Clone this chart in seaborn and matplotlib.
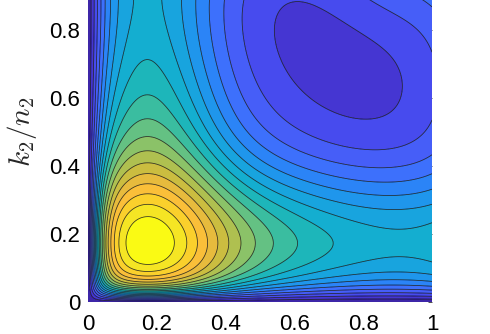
import numpy as np
import matplotlib
matplotlib.use("Agg")
import matplotlib.pyplot as plt
import seaborn as sns
from matplotlib.colors import LinearSegmentedColormap

# ---------------- data ----------------
x_ticks = [0, 0.2, 0.4, 0.6, 0.8, 1]
x_tick_labels = ["0", "0.2", "0.4", "0.6", "0.8", "1"]
y_ticks = [0, 0.2, 0.4, 0.6, 0.8]
y_tick_labels = ["0", "0.2", "0.4", "0.6", "0.8"]
y_label = "$k_2/n_2$"

# field description: central peak, two ridges, background, bump near top-right
peak_center = [0.17, 0.17]
peak_amp = [0.31]
peak_sigma = [0.33]
ridge_amp = [0.33]
ridge_sigma = [0.153]
base_level = [0.040]
edge_rise_amp = [0.086]
edge_rise_power = [8]
edge_rise_on_ridge = [0.5]
top_bump_center = [0.9, 1.0]
top_bump_amp = [0.085]
top_bump_sigma = [0.15]
edge_scale = [0.05]
n_bands = 20
x_range = [0.0, 1.0]
y_range = [0.0, 0.888]

# parula (MATLAB) colormap anchors, evenly spaced 0..1
parula_anchors = [
    (0.24, 0.15, 0.66), (0.27, 0.21, 0.82), (0.28, 0.29, 0.93), (0.28, 0.36, 0.97),
    (0.25, 0.43, 0.99), (0.18, 0.50, 0.98), (0.13, 0.57, 0.94), (0.10, 0.63, 0.89),
    (0.08, 0.67, 0.84), (0.08, 0.70, 0.78), (0.15, 0.73, 0.68), (0.30, 0.75, 0.58),
    (0.45, 0.76, 0.47), (0.60, 0.76, 0.37), (0.72, 0.75, 0.29), (0.82, 0.74, 0.24),
    (0.92, 0.73, 0.24), (0.99, 0.75, 0.22), (0.98, 0.82, 0.17), (0.96, 0.90, 0.14),
    (0.98, 0.98, 0.08),
]
parula = LinearSegmentedColormap.from_list("parula", parula_anchors)

# ---------------- field ----------------
xs = np.linspace(x_range[0], x_range[1], 500)
ys = np.linspace(0.0, 1.0, 500)
X, Y = np.meshgrid(xs, ys)
xc, yc = peak_center
bx, by = top_bump_center
gy = np.exp(-(Y - yc) ** 2 / (2 * ridge_sigma[0] ** 2))   # horizontal ridge profile
gx = np.exp(-(X - xc) ** 2 / (2 * ridge_sigma[0] ** 2))   # vertical ridge profile
k = edge_rise_on_ridge[0]
edge = np.tanh(X / edge_scale[0]) * np.tanh(Y / edge_scale[0])
inner = (base_level[0]
         + edge_rise_amp[0] * (X ** edge_rise_power[0] * (1 - k * gy)
                               + Y ** edge_rise_power[0] * (1 - k * gx))
         + top_bump_amp[0] * np.exp(-((X - bx) ** 2 + (Y - by) ** 2) / (2 * top_bump_sigma[0] ** 2))
         + ridge_amp[0] * (gy + gx)
         + peak_amp[0] * np.exp(-((X - xc) ** 2 + (Y - yc) ** 2) / (2 * peak_sigma[0] ** 2)))
Z = edge * inner
Z = Z / Z.max()

levels = np.linspace(0, 1, n_bands + 1)
band_colors = [parula(i / (n_bands - 1)) for i in range(n_bands)]

# ---------------- plot ----------------
sns.set_style("white")
plt.rcParams["font.family"] = ["Liberation Sans", "DejaVu Sans"]
plt.rcParams["mathtext.fontset"] = "cm"

fig = plt.figure(figsize=(4.9, 3.34), dpi=100)
ax = fig.add_axes([88 / 490, 32 / 334, 344 / 490, 302 / 334])
ax.contourf(X, Y, Z, levels=levels, colors=band_colors, antialiased=True)
ax.contour(X, Y, Z, levels=levels[1:-1], colors="k", linewidths=0.55, alpha=0.8)

ax.set_xlim(*x_range)
ax.set_ylim(*y_range)
ax.set_xticks(x_ticks)
ax.set_xticklabels(x_tick_labels)
ax.set_yticks(y_ticks)
ax.set_yticklabels(y_tick_labels)
ax.tick_params(axis="both", direction="in", length=3, width=0.6, color="#333333",
               labelsize=16, labelcolor="black")
ax.tick_params(axis="x", pad=9)
ax.tick_params(axis="y", pad=5.5, right=True)
for sp in ax.spines.values():
    sp.set_visible(False)
fig.text(22 / 490, 1 - 132 / 334, y_label, rotation=90, ha="center", va="center",
         fontsize=21)

fig.savefig("out.png", dpi=100)
